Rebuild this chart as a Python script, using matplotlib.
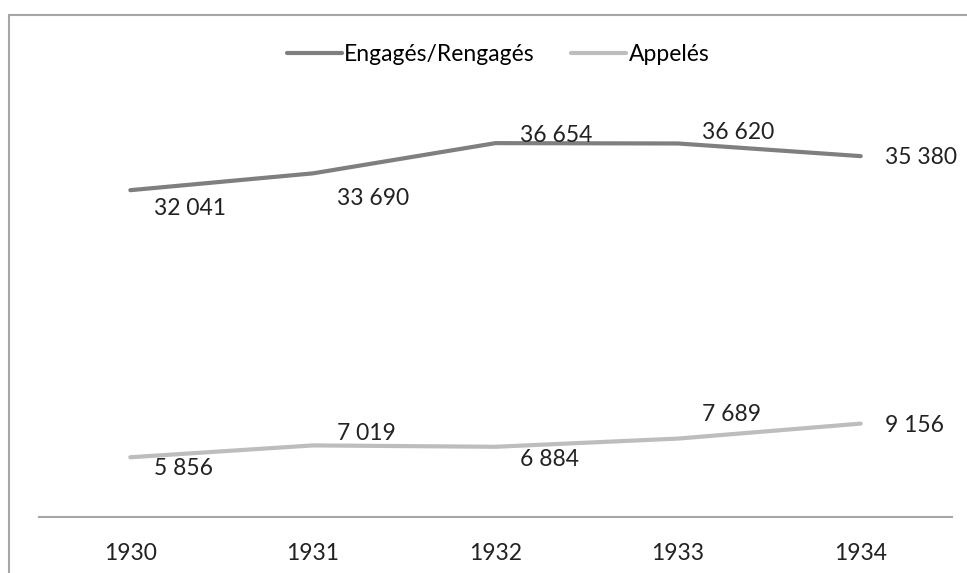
import matplotlib.pyplot as plt
from matplotlib.patches import Rectangle

# données
annees = ['1930', '1931', '1932', '1933', '1934']
engages = [32041, 33690, 36654, 36620, 35380]
appeles = [5856, 7019, 6884, 7689, 9156]

# décalages verticaux des étiquettes (pixels, vers le bas)
dy_engages = [18, 25, -8, -11, 1]
dy_appeles = [11, -12, 13, -24, 2]

plt.rcParams['font.family'] = ['Lato', 'DejaVu Sans']
fs = 16.5

fig = plt.figure(figsize=(9.67, 5.73), dpi=100)
ax = fig.add_axes([39 / 967, 1 - 517 / 573, (952 - 39) / 967, (517 - 109) / 573])

x = range(len(annees))
ax.plot(x, engages, color='#7f7f80', lw=3, solid_capstyle='round', label='Engagés/Rengagés')
ax.plot(x, appeles, color='#bdbdc0', lw=3, solid_capstyle='round', label='Appelés')


def fmt(v):
    return f"{v:,}".replace(",", " ")


for serie, decal in [(engages, dy_engages), (appeles, dy_appeles)]:
    for xi, v, dy in zip(x, serie, decal):
        ax.annotate(fmt(v), (xi, v), xytext=(24, -dy), textcoords='offset pixels',
                    ha='left', va='center', fontsize=fs, color='#222222')

ax.set_xlim(-0.5, 4.5)
ax.set_ylim(0, 40000)
ax.set_xticks(list(x))
ax.set_xticklabels(annees, fontsize=fs, color='#222222')
ax.tick_params(axis='x', length=0, pad=19)
ax.set_yticks([])
for s in ['top', 'right', 'left']:
    ax.spines[s].set_visible(False)
ax.spines['bottom'].set_color('#a6a6a6')
ax.spines['bottom'].set_linewidth(1.5)

ax.legend(loc='center', bbox_to_anchor=(498 / 967, 1 - 55 / 573), bbox_transform=fig.transFigure,
          ncol=2, frameon=False, fontsize=fs, handlelength=2.4, handletextpad=0.1,
          columnspacing=1.6)

# cadre
fig.add_artist(Rectangle((9 / 967, -0.05), 1.0, 1 - 15 / 573 + 0.05, transform=fig.transFigure,
                         fill=False, edgecolor='#a6a6a6', lw=1.5))

fig.savefig('out.png', dpi=100)
